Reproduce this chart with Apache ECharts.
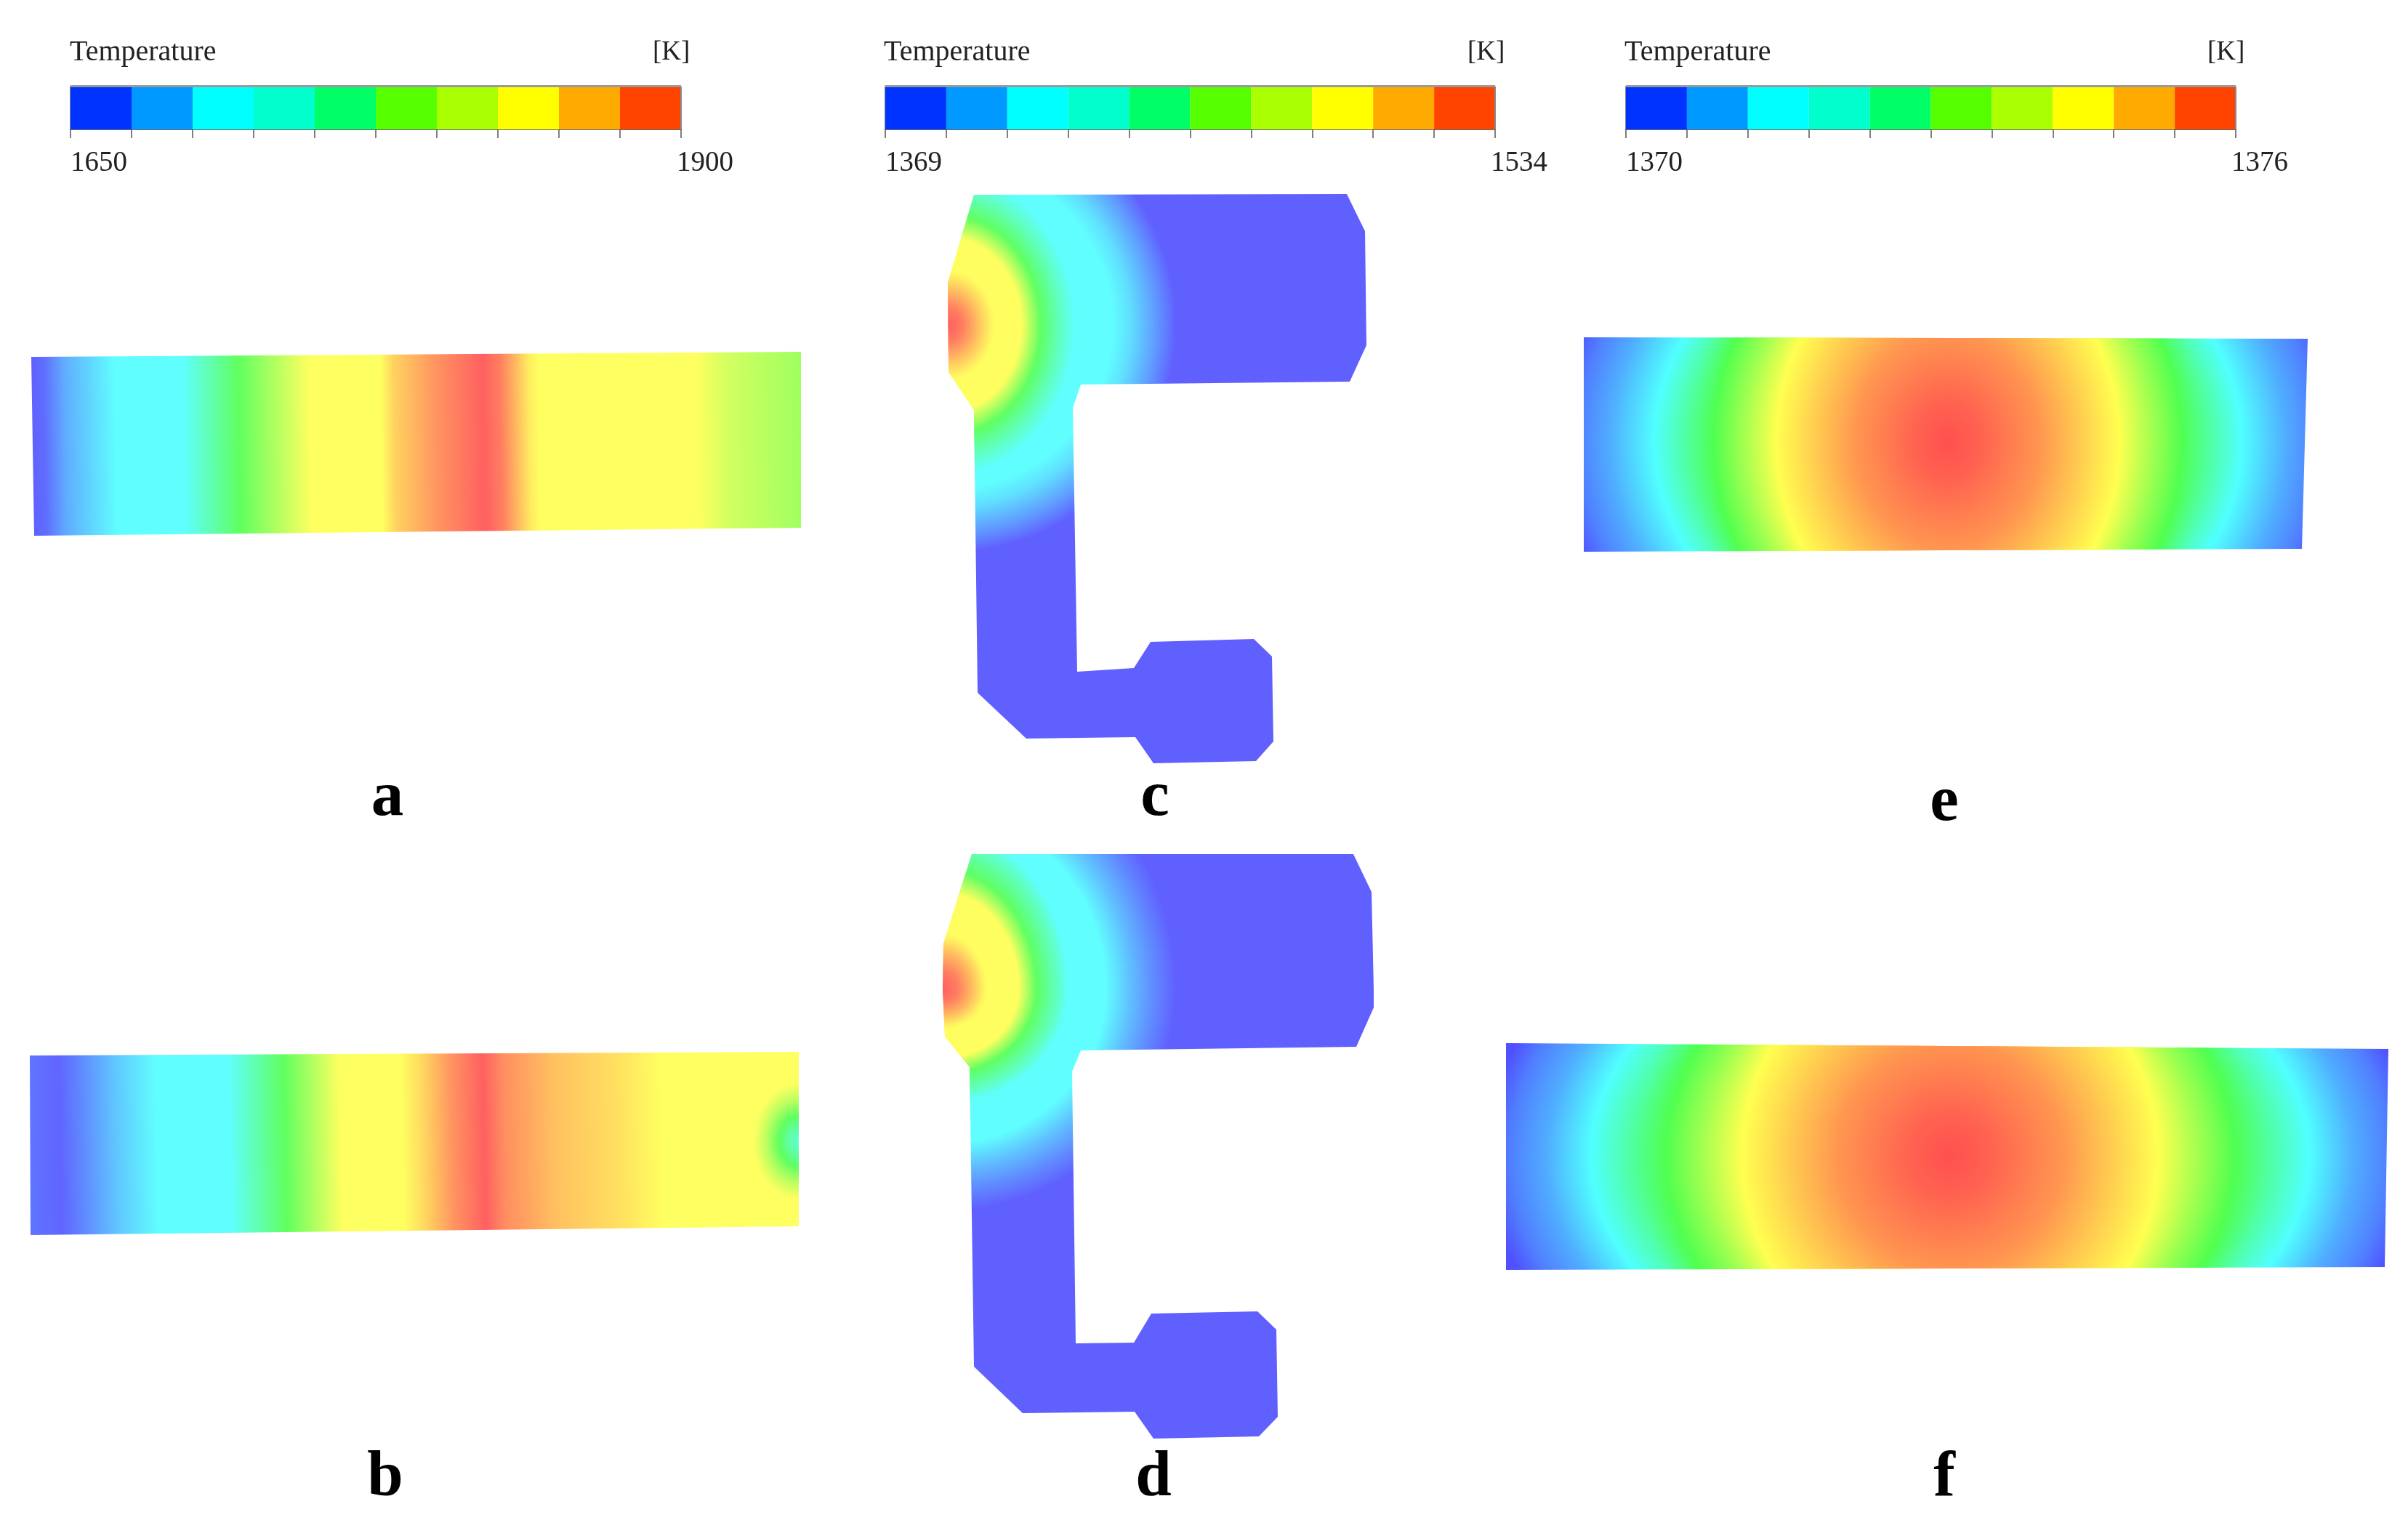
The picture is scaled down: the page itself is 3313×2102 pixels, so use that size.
<!DOCTYPE html>
<html>
<head>
<meta charset="utf-8">
<title>Temperature fields</title>
<style>html,body{margin:0;padding:0;background:#fff}#chart{width:3313px;height:2102px}</style>
<script src="https://cdn.jsdelivr.net/npm/echarts@6/dist/echarts.min.js"></script>
</head>
<body>
<div id="chart"></div>
<script>
// ---------- data ----------
const legendColors = ['#0033ff','#0099ff','#00ffff','#00ffcc','#00ff66','#55ff00','#aaff00','#ffff00','#ffaa00','#ff4400'];
const legendRangeA = [1650, 1900];   // panels a, b
const legendRangeB = [1369, 1534];   // panels c, d
const legendRangeC = [1370, 1376];   // panels e, f
const legendTitle = 'Temperature';
const legendUnit = '[K]';
const panelLetters = ['a','b','c','d','e','f'];

// Outlines of the temperature fields (x, y on the picture)
const outlineA = [[43,491],[1102,484],[1102,726],[47,737]];
const outlineB = [[41,1452],[1099,1447],[1099,1687],[42,1699]];
const outlineC = [[1340,268],[1853,267],[1878,318],[1880,475],[1857,525],[1487,529],[1476,561],[1482,924],[1560,919],[1583,883],[1725,879],[1750,903],[1752,1020],[1728,1047],[1587,1050],[1562,1014],[1412,1016],[1345,953],[1340,564],[1305,512],[1304,389]];
const outlineDUpper = [[1297,1362],[1298,1298],[1337,1175],[1862,1175],[1887,1227],[1890,1362]];
const outlineDLower = [[1297,1361],[1890,1361],[1890,1386],[1866,1440],[1487,1445],[1475,1474],[1480,1848],[1560,1847],[1584,1807],[1730,1804],[1756,1829],[1758,1949],[1732,1976],[1587,1979],[1561,1942],[1407,1944],[1340,1880],[1334,1468],[1300,1426]];
const outlineE = [[2179,464],[3175,466],[3167,755],[2179,759]];
const outlineF = [[2072,1435],[3286,1443],[3281,1743],[2072,1747]];
const spotB = [[1030,1480],[1099,1480],[1099,1660],[1030,1660]];

// Temperature along x at mid height [x, K]
const profileA = [[43,1650],[62,1655],[90,1680],[160,1712],[252,1712],[329,1775],[427,1837],[525,1837],[543,1855],[602,1880],[666,1900],[690,1888],[729,1845],[743,1837],[960,1837],[1002,1820],[1102,1800]];
const profileB = [[41,1658],[83,1652],[111,1665],[160,1690],[216,1712],[315,1712],[392,1775],[469,1837],[553,1837],[581,1852],[623,1880],[666,1900],[694,1882],[764,1862],[848,1850],[911,1837],[1099,1837]];

// Temperature by distance from the hot spot [r, K, opacity]
const radialSpotB = [[0,1732],[12,1745],[27,1775],[45,1812],[62,1837],[63,1837,0]];
const radialC = [[0,1534],[20,1526],[40,1510],[58,1496],[64,1493],[100,1493],[127,1451],[153,1427],[174,1410],[225,1410],[250,1402],[284,1385],[313,1369]];
const radialCInner = [[0,1534],[20,1526],[40,1510],[58,1496],[64,1493],[100,1493],[127,1451],[153,1427],[174,1410],[180,1410,0]];
const radialD = [[0,1534],[20,1526],[40,1510],[55,1496],[61,1493],[103,1493],[128,1451],[160,1423],[172,1410],[223,1410],[257,1394],[290,1380],[320,1369]];
const radialDInner = [[0,1534],[20,1526],[40,1510],[55,1496],[61,1493],[103,1493],[128,1451],[160,1423],[172,1410],[178,1410,0]];
const radialEOuter = [[0,1376],[45,1375.85],[90,1375.6],[127,1375.4],[236,1374.5],[322,1373],[404,1371.5],[465,1370.8],[508,1370.4],[540,1370]];
const radialEMid = [[0,1376],[45,1375.85],[90,1375.6],[127,1375.4],[236,1374.5],[322,1373],[360,1372.3,0]];
const radialEInner = [[0,1376],[45,1375.85],[90,1375.6],[127,1375.4],[236,1374.5],[280,1373.7,0]];
const radialFOuter = [[0,1376],[55,1375.85],[110,1375.6],[155,1375.4],[286,1374.5],[391,1373],[494,1371.5],[555,1370.8],[605,1370.4],[640,1370]];
const radialFMid = [[0,1376],[55,1375.85],[110,1375.6],[155,1375.4],[286,1374.5],[391,1373],[435,1372.4,0]];
const radialFInner = [[0,1376],[55,1375.85],[110,1375.6],[155,1375.4],[286,1374.5],[335,1373.8,0]];

// ---------- layout ----------
const WIDTH = 3313, HEIGHT = 2102;
const panels = [
  {box:[30,470,1090,280],  range:legendRangeA, wash:0x60, layers:[
    {outline:outlineA, profile:profileA, tilt:0.016}]},
  {box:[30,1430,1090,280], range:legendRangeA, wash:0x60, layers:[
    {outline:outlineB, profile:profileB, tilt:0.02},
    {outline:spotB, radial:radialSpotB, c:[1099,1570], a:0.78}]},
  {box:[1290,255,600,805], range:legendRangeB, wash:0x60, layers:[
    {outline:outlineC, radial:radialC, c:[1305,447], a:1},
    {outline:outlineC, radial:radialCInner, c:[1305,447], a:0.84}]},
  {box:[1285,1165,615,825], range:legendRangeB, wash:0x60, layers:[
    {outline:outlineDUpper, radial:radialD, c:[1298,1361], a:0.92},
    {outline:outlineDUpper, radial:radialDInner, c:[1298,1361], a:0.78},
    {outline:outlineDLower, radial:radialD, c:[1298,1361], a:1.05},
    {outline:outlineDLower, radial:radialDInner, c:[1298,1361], a:1.1}]},
  {box:[2170,455,1015,315], range:legendRangeC, wash:0x50, layers:[
    {outline:outlineE, radial:radialEOuter, c:[2680,607], a:1.24},
    {outline:outlineE, radial:radialEMid, c:[2680,607], a:0.96},
    {outline:outlineE, radial:radialEInner, c:[2680,607], a:0.85}]},
  {box:[2060,1425,1235,330], range:legendRangeC, wash:0x50, layers:[
    {outline:outlineF, radial:radialFOuter, c:[2683,1590], a:1.5},
    {outline:outlineF, radial:radialFMid, c:[2683,1590], a:1.19},
    {outline:outlineF, radial:radialFInner, c:[2683,1590], a:0.98}]}
];
const legends = [
  {range:legendRangeA, left:97,   right:937,  titleX:96,   unitX:898},
  {range:legendRangeB, left:1218, right:2057, titleX:1216, unitX:2019},
  {range:legendRangeC, left:2237, right:3076, titleX:2235, unitX:3037}
];
const letterSpots = [[533,1118],[530,2054],[1589,1118],[1587,2054],[2675,1125],[2675,2054]];
const LEG_TOP = 119, LEG_H = 59, TICK = 12;
const SERIF = '"Liberation Serif", "Times New Roman", serif';
const LABEL_STYLE = {color:'#222', fontFamily:SERIF, fontSize:39};

// ---------- colour helpers ----------
function fieldColor(K, range, wash, alpha) {
  const w = wash;
  const knots = [[w,w,255],[w,255,255],[w,255,w],[255,255,w],[255,w,w]];
  let t = (K - range[0]) / (range[1] - range[0]);
  t = Math.max(0, Math.min(1, t)) * 4;
  const i = Math.min(3, Math.floor(t)), f = t - i;
  const rgb = [0,1,2].map(c => Math.round(knots[i][c] + (knots[i+1][c] - knots[i][c]) * f));
  return 'rgba(' + rgb.join(',') + ',' + (alpha === undefined ? 1 : alpha) + ')';
}

function renderLayer(panel) {
  return function (params, api) {
    const L = panel.layers[api.value(0)];
    const px = L.outline.map(p => api.coord(p));
    if (L.profile) {
      const x0 = L.profile[0][0], x1 = L.profile[L.profile.length - 1][0];
      const ym = (L.outline[0][1] + L.outline[3][1]) / 2;
      const a = api.coord([x0, ym]), b = api.coord([x1, ym]);
      return {
        type: 'polygon',
        shape: {points: px},
        style: {fill: {
          type: 'linear', global: true,
          x: a[0], y: a[1], x2: b[0], y2: b[1] - (b[0] - a[0]) * L.tilt,
          colorStops: L.profile.map(s => ({
            offset: (s[0] - x0) / (x1 - x0),
            color: fieldColor(s[1], panel.range, panel.wash)
          }))
        }}
      };
    }
    const c = api.coord(L.c);
    const rMax = L.radial[L.radial.length - 1][0];
    return {
      type: 'polygon',
      originX: c[0], originY: c[1], scaleX: 1, scaleY: 1 / L.a,
      shape: {points: px.map(p => [p[0], c[1] + (p[1] - c[1]) * L.a])},
      style: {fill: {
        type: 'radial', global: true,
        x: c[0], y: c[1], r: rMax,
        colorStops: L.radial.map(s => ({
          offset: s[0] / rMax,
          color: fieldColor(s[1], panel.range, panel.wash, s[2])
        }))
      }}
    };
  };
}

// ---------- option ----------
const grids = [], xAxes = [], yAxes = [], series = [], graphics = [];

panels.forEach(function (panel) {
  const b = panel.box, idx = grids.length;
  grids.push({left:b[0], top:b[1], width:b[2], height:b[3], show:false});
  xAxes.push({type:'value', gridIndex:idx, min:b[0], max:b[0]+b[2], show:false});
  yAxes.push({type:'value', gridIndex:idx, min:b[1], max:b[1]+b[3], inverse:true, show:false});
  series.push({
    type:'custom', xAxisIndex:idx, yAxisIndex:idx, silent:true, clip:false,
    animation:false, renderItem:renderLayer(panel),
    data: panel.layers.map((l, i) => [i, 0])
  });
});

legends.forEach(function (lg) {
  const idx = grids.length, lineStyle = {color:'#8a8a8a', width:2};
  grids.push({left:lg.left, top:LEG_TOP, width:lg.right-lg.left, height:LEG_H, show:false});
  xAxes.push({
    type:'value', gridIndex:idx, position:'bottom', min:0, max:10, interval:1, splitLine:{show:false},
    axisLine:{show:true, onZero:false, lineStyle:{color:'#6a6a6a', width:2}},
    axisTick:{show:true, length:TICK, lineStyle:{color:'#555', width:1.5}},
    axisLabel:Object.assign({
      show:true, margin:27, align:'left', alignMaxLabel:'center',
      showMinLabel:true, showMaxLabel:true, hideOverlap:false,
      rich:{end:Object.assign({padding:[0,0,0,66]}, LABEL_STYLE)},
      formatter:v => v === 0 ? String(lg.range[0]) : v === 10 ? '{end|' + lg.range[1] + '}' : ''
    }, LABEL_STYLE)
  });
  yAxes.push({
    type:'value', gridIndex:idx, min:0, max:1, position:'left', splitLine:{show:false},
    axisLine:{show:true, onZero:false, lineStyle:lineStyle}, axisTick:{show:false}, axisLabel:{show:false}
  });
  series.push({
    type:'custom', xAxisIndex:idx, yAxisIndex:idx, silent:true, animation:false,
    renderItem:function (params, api) {
      const i = api.value(0), tl = api.coord([i, 1]), br = api.coord([i + 1, 0]);
      return {type:'rect', shape:{x:tl[0], y:tl[1], width:br[0]-tl[0], height:br[1]-tl[1]}, style:{fill:legendColors[i]}};
    },
    data: legendColors.map((c, i) => [i, 0])
  });
  // hairline over the top edge of the colour bar
  graphics.push({type:'rect', silent:true, z:50, shape:{x:lg.left, y:LEG_TOP-2, width:lg.right-lg.left, height:3}, style:{fill:'#9a9a9a'}});
  graphics.push({type:'rect', silent:true, z:50, shape:{x:lg.right-1, y:LEG_TOP, width:2, height:LEG_H}, style:{fill:'#8a8a8a'}});
  [[legendTitle, lg.titleX, 40],[legendUnit, lg.unitX, 37]].forEach(function (t) {
    graphics.push({type:'text', silent:true, z:50, x:t[1], y:72, style:{
      text:t[0], fill:'#222', font:t[2] + 'px ' + SERIF, textAlign:'left', textVerticalAlign:'middle', align:'left', verticalAlign:'middle'
    }});
  });
});

panelLetters.forEach(function (ch, i) {
  const size = 89;
  graphics.push({type:'text', silent:true, z:50, x:letterSpots[i][0], y:letterSpots[i][1] - size * 0.22, style:{
    text:ch, fill:'#000', font:'bold ' + size + 'px ' + SERIF, textAlign:'center', textVerticalAlign:'middle', align:'center', verticalAlign:'middle'
  }});
});

const chart = echarts.init(document.getElementById('chart'), null, {renderer:'canvas', width:WIDTH, height:HEIGHT});
chart.setOption({
  animation:false,
  backgroundColor:'#ffffff',
  grid:grids, xAxis:xAxes, yAxis:yAxes, series:series,
  graphic:{elements:graphics}
});
</script>
</body>
</html>
